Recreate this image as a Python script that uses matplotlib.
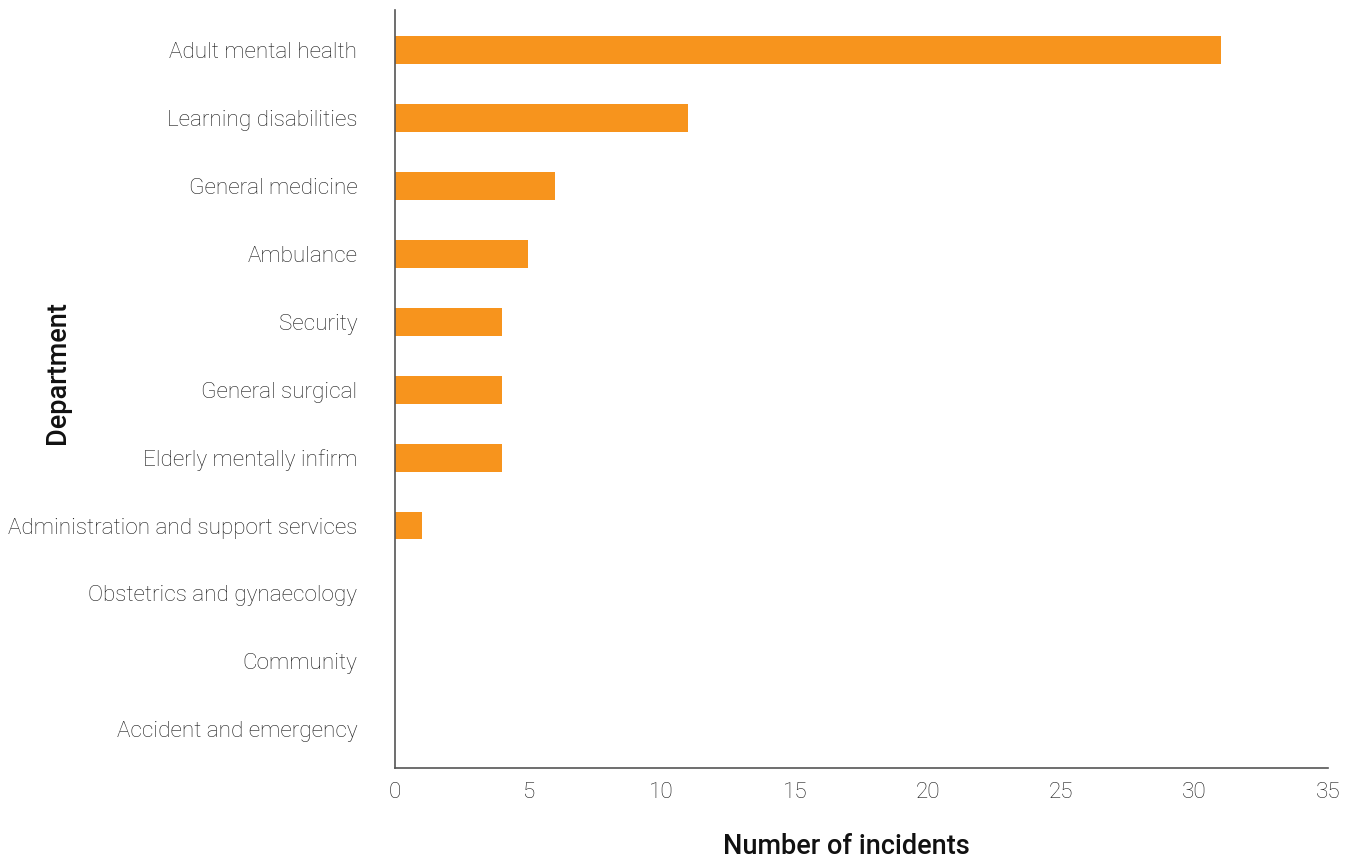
import matplotlib
matplotlib.use("Agg")
import matplotlib.pyplot as plt

departments = [
    "Adult mental health",
    "Learning disabilities",
    "General medicine",
    "Ambulance",
    "Security",
    "General surgical",
    "Elderly mentally infirm",
    "Administration and support services",
    "Obstetrics and gynaecology",
    "Community",
    "Accident and emergency",
]
incidents = [31, 11, 6, 5, 4, 4, 4, 1, 0, 0, 0]
xticks = [0, 5, 10, 15, 20, 25, 30, 35]

plt.rcParams['font.family'] = ['Roboto', 'DejaVu Sans']

fig = plt.figure(figsize=(13.54, 8.59), dpi=100)
ax = fig.add_axes([395/1354, 1 - 768/859, (1328 - 395)/1354, (768 - 10)/859])

ypos = list(range(len(departments)))
ax.barh(ypos, incidents, height=0.41, color="#F7941D")
ax.set_yticks(ypos)
ax.set_yticklabels(departments, fontsize=16.2, fontweight='light', color='#1a1a1a')
ax.set_ylim(len(departments) - 0.43, -0.59)
ax.set_xlim(0, 35)
ax.set_xticks(xticks)
ax.set_xticklabels([str(t) for t in xticks], fontsize=16.2, fontweight='light', color='#1a1a1a')
ax.tick_params(axis='y', length=0, pad=27)
ax.tick_params(axis='x', length=0, pad=10)

for s in ['top', 'right']:
    ax.spines[s].set_visible(False)
for s in ['left', 'bottom']:
    ax.spines[s].set_color('#555555')
    ax.spines[s].set_linewidth(1.2)

ax.set_xlabel("Number of incidents", fontsize=19.5, fontweight='medium', color='#111111')
ax.xaxis.set_label_coords((846 - 395) / (1328 - 395), -(847 - 768) / (768 - 10))
ax.set_ylabel("Department", fontsize=19.5, fontweight='medium', color='#111111')
ax.yaxis.set_label_coords(-(395 - 58) / (1328 - 395), (768 - 373) / (768 - 10))
ax.xaxis.label.set_va('center')
ax.yaxis.label.set_va('center')

fig.savefig("out.png", dpi=100)
